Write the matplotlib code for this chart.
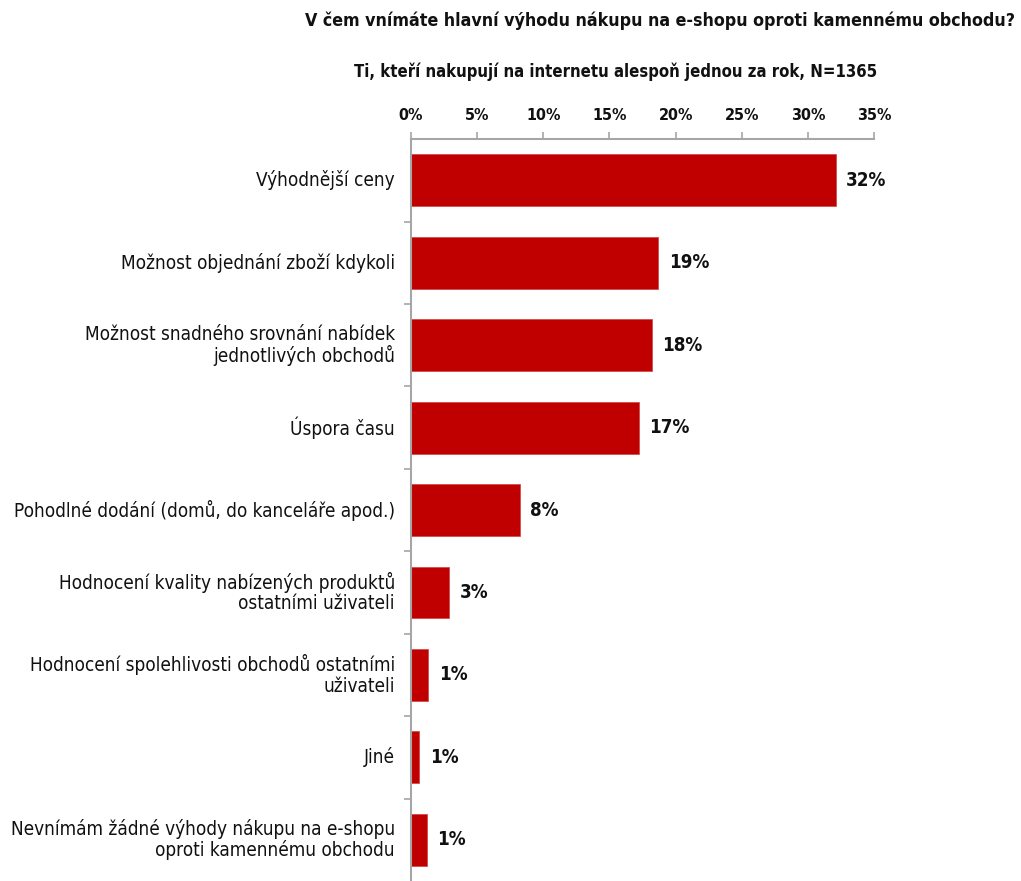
import matplotlib.pyplot as plt
from matplotlib.ticker import FuncFormatter

plt.rcParams["font.family"] = ["DejaVu Sans"]
plt.rcParams["font.stretch"] = "condensed"

TITLE = "V čem vnímáte hlavní výhodu nákupu na e-shopu oproti kamennému obchodu?"
SUBTITLE = "Ti, kteří nakupují na internetu alespoň jednou za rok, N=1365"

categories = [
    "Výhodnější ceny",
    "Možnost objednání zboží kdykoli",
    "Možnost snadného srovnání nabídek\njednotlivých obchodů",
    "Úspora času",
    "Pohodlné dodání (domů, do kanceláře apod.)",
    "Hodnocení kvality nabízených produktů\nostatními uživateli",
    "Hodnocení spolehlivosti obchodů ostatními\nuživateli",
    "Jiné",
    "Nevnímám žádné výhody nákupu na e-shopu\noproti kamennému obchodu",
]
shares = [32.1, 18.7, 18.2, 17.2, 8.2, 2.9, 1.3, 0.6, 1.2]
x_ticks = [0, 5, 10, 15, 20, 25, 30, 35]

BAR_RED = "#c00000"
AXIS_GREY = "#a6a6a6"
INK = "#111111"

fig = plt.figure(figsize=(10.21, 8.81), dpi=100)
ax = fig.add_axes([0.4026, 0.0, 0.4535, 0.842])

ypos = list(range(len(categories)))
ax.barh(ypos, shares, height=0.63, color=BAR_RED, edgecolor="#d04040", linewidth=0.5)

for y, v in zip(ypos, shares):
    ax.text(v + 0.8, y, f"{v:.0f}%", va="center", ha="left",
            fontsize=13.5, fontweight="bold", color=INK)

ax.set_ylim(len(categories) - 0.5, -0.5)
ax.set_xlim(0, 35)
ax.xaxis.tick_top()
ax.set_xticks(x_ticks)
ax.xaxis.set_major_formatter(FuncFormatter(lambda v, _: f"{v:.0f}%"))
for lbl in ax.get_xticklabels():
    lbl.set_fontweight("bold")
    lbl.set_fontsize(11.5)
ax.tick_params(axis="x", direction="out", length=5, color=AXIS_GREY,
               width=1.2, pad=7, labelcolor=INK)

# category labels sit between boundary ticks, so draw them as text
ax.set_yticks([y + 0.5 for y in ypos[:-1]])
ax.set_yticklabels([])
ax.tick_params(axis="y", direction="out", length=5, color=AXIS_GREY, width=1.2)
for y, name in zip(ypos, categories):
    ax.text(-0.035, y, name, transform=ax.get_yaxis_transform(),
            ha="right", va="center", fontsize=13.6, color=INK,
            linespacing=1.08)

for side in ("right", "bottom"):
    ax.spines[side].set_visible(False)
for side in ("top", "left"):
    ax.spines[side].set_color(AXIS_GREY)
    ax.spines[side].set_linewidth(1.5)

fig.text(0.994, 0.977, TITLE, ha="right", va="center",
         fontsize=12.8, fontweight="bold", color=INK)
fig.text(0.6025, 0.918, SUBTITLE, ha="center", va="center",
         fontsize=12, fontweight="bold", color=INK)

fig.savefig("out.png", dpi=100)
